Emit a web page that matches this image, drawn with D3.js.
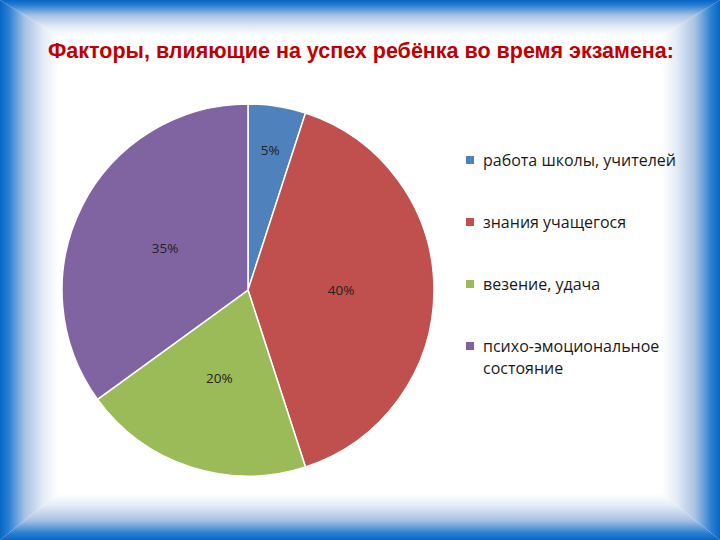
<!DOCTYPE html>
<html>
<head>
<meta charset="utf-8">
<script src="https://cdn.jsdelivr.net/npm/d3@7"></script>
<style>
  body { margin: 0; background: #fff; }
  svg { display: block; }
</style>
</head>
<body>
<div id="chart"></div>
<script>
// chart data
var categories = ["работа школы, учителей", "знания учащегося", "везение, удача", "психо-эмоциональное состояние"];
var values = [5, 40, 20, 35];
var colors = ["#4f81bd", "#c0504d", "#9bbb59", "#8064a2"];
var title = "Факторы, влияющие на успех ребёнка во время экзамена:";

var W = 720, H = 540;

var svg = d3.select("#chart")
  .append("svg")
  .attr("width", W)
  .attr("height", H);

var defs = svg.append("defs");

// bevelled blue frame
var frame = {left: 58, top: 36, right: 662, bottom: 494};
var sides = [
  {id: "gTop", x1: 0, y1: 0, x2: 0, y2: 1, pts: [[0,0],[W,0],[frame.right,frame.top],[frame.left,frame.top]]},
  {id: "gBottom", x1: 0, y1: 1, x2: 0, y2: 0, pts: [[0,H],[W,H],[frame.right,frame.bottom],[frame.left,frame.bottom]]},
  {id: "gLeft", x1: 0, y1: 0, x2: 1, y2: 0, pts: [[0,0],[frame.left,frame.top],[frame.left,frame.bottom],[0,H]]},
  {id: "gRight", x1: 1, y1: 0, x2: 0, y2: 0, pts: [[W,0],[frame.right,frame.top],[frame.right,frame.bottom],[W,H]]}
];
var stops = [
  {o: 0, c: "#0866c4"},
  {o: 0.15, c: "#2a7fd2"},
  {o: 0.42, c: "#a6c0e3"},
  {o: 0.75, c: "#e4ecf7"},
  {o: 1, c: "#ffffff"}
];
sides.forEach(function(s) {
  var g = defs.append("linearGradient")
    .attr("id", s.id)
    .attr("x1", s.x1).attr("y1", s.y1)
    .attr("x2", s.x2).attr("y2", s.y2);
  stops.forEach(function(st) {
    g.append("stop").attr("offset", st.o).attr("stop-color", st.c);
  });
  svg.append("polygon")
    .attr("points", s.pts.map(function(p) { return p.join(","); }).join(" "))
    .attr("fill", "url(#" + s.id + ")");
});

// title
svg.append("text")
  .attr("x", 361)
  .attr("y", 58)
  .attr("text-anchor", "middle")
  .style("font-family", "'Liberation Sans', Arial, sans-serif")
  .style("font-weight", "bold")
  .style("font-size", "21.5px")
  .style("fill", "#c00000")
  .text(title);

// pie
var cx = 248, cy = 290, radius = 186;
var pieG = svg.append("g").attr("transform", "translate(" + cx + "," + cy + ")");

var pie = d3.pie().sort(null).value(function(d) { return d; });
var arcs = pie(values);
var arc = d3.arc().innerRadius(0).outerRadius(radius);

pieG.selectAll("path")
  .data(arcs)
  .enter()
  .append("path")
    .attr("d", arc)
    .attr("fill", function(d, i) { return colors[i]; })
    .attr("stroke", "#fff")
    .attr("stroke-width", 1.5);

// labels: small slices get pushed further out
pieG.selectAll("text")
  .data(arcs)
  .enter()
  .append("text")
    .attr("transform", function(d) {
      var r = d.data < 10 ? radius * 0.76 : radius * 0.5;
      var a = (d.startAngle + d.endAngle) / 2;
      return "translate(" + (Math.sin(a) * r) + "," + (-Math.cos(a) * r) + ")";
    })
    .attr("text-anchor", "middle")
    .attr("dy", "0.35em")
    .style("font-family", "'Open Sans', sans-serif")
    .style("font-size", "13.5px")
    .style("fill", "#222")
    .text(function(d) { return d.data + "%"; });

// legend
var legendY = d3.scalePoint()
  .domain(categories)
  .range([160, 346]);

var legend = svg.append("g");
var items = legend.selectAll("g")
  .data(categories)
  .enter()
  .append("g")
  .attr("transform", function(d) { return "translate(466," + legendY(d) + ")"; });

items.append("rect")
  .attr("x", 0)
  .attr("y", -4)
  .attr("width", 8)
  .attr("height", 8)
  .attr("fill", function(d, i) { return colors[i]; });

items.append("text")
  .attr("x", 17)
  .style("font-family", "'Open Sans', sans-serif")
  .style("font-size", "16px")
  .style("fill", "#1a1a1a")
  .each(function(d) {
    var lines = d.indexOf("психо") === 0 ? ["психо-эмоциональное", "состояние"] : [d];
    var t = d3.select(this);
    lines.forEach(function(l, k) {
      t.append("tspan")
        .attr("x", 17)
        .attr("dy", k === 0 ? "0.35em" : "1.4em")
        .text(l);
    });
  });
</script>
</body>
</html>
